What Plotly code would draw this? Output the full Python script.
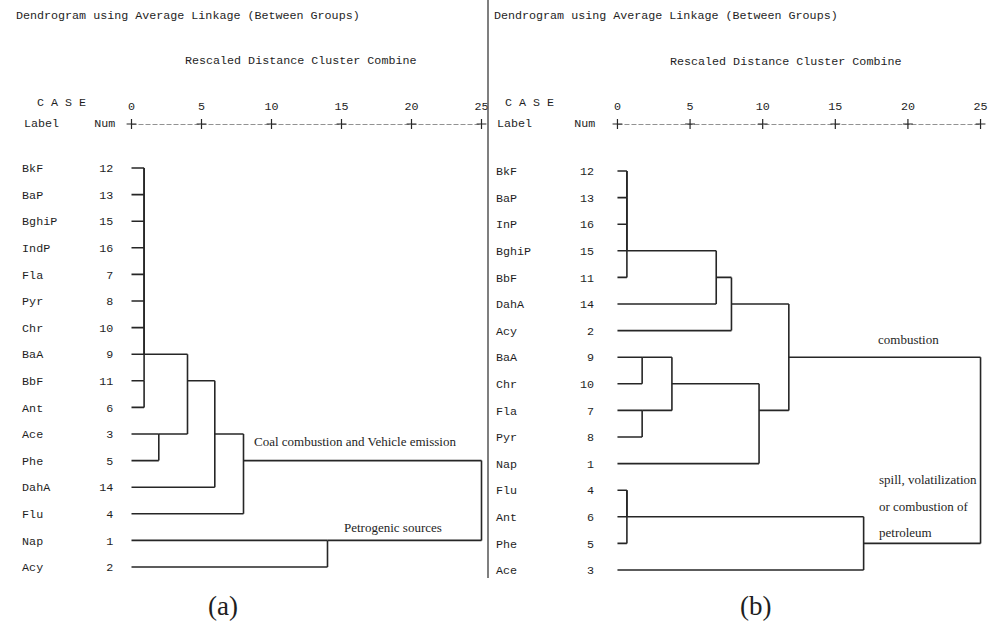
import plotly.graph_objects as go

# ---------------- data ----------------
ticks = [0, 5, 10, 15, 20, 25]

labels_a = ["BkF", "BaP", "BghiP", "IndP", "Fla", "Pyr", "Chr", "BaA",
            "BbF", "Ant", "Ace", "Phe", "DahA", "Flu", "Nap", "Acy"]
nums_a = [12, 13, 15, 16, 7, 8, 10, 9, 11, 6, 3, 5, 14, 4, 1, 2]
# (left id, right id, rescaled distance); new cluster ids start at len(labels)
merges_a = [
    (0, 1, 0.9), (16, 2, 0.9), (17, 3, 0.9), (18, 4, 0.9), (19, 5, 0.9),
    (20, 6, 0.9), (21, 7, 0.9), (8, 9, 0.9), (22, 23, 0.9),
    (10, 11, 1.95),
    (24, 25, 4.0),
    (26, 12, 5.95),
    (27, 13, 8.0),
    (14, 15, 14.0),
    (28, 29, 25.0),
]

labels_b = ["BkF", "BaP", "InP", "BghiP", "BbF", "DahA", "Acy", "BaA",
            "Chr", "Fla", "Pyr", "Nap", "Flu", "Ant", "Phe", "Ace"]
nums_b = [12, 13, 16, 15, 11, 14, 2, 9, 10, 7, 8, 1, 4, 6, 5, 3]
merges_b = [
    (0, 1, 0.65), (16, 2, 0.65), (17, 3, 0.65), (18, 4, 0.65),
    (19, 5, 6.8),
    (20, 6, 7.85),
    (7, 8, 1.7),
    (9, 10, 1.7),
    (22, 23, 3.75),
    (24, 11, 9.75),
    (21, 25, 11.8),
    (12, 13, 0.65), (27, 14, 0.65),
    (28, 15, 16.95),
    (26, 29, 25.0),
]

# ---------------- helpers ----------------
W, H = 993, 621
def px(x):
    return x / W
def py(y):
    return 1 - y / H

LINE = "#262626"
TXT = "#1e1e1e"
MONO = "Liberation Mono"
SERIF = "Liberation Serif"


def dendro_segments(n, merges):
    """SPSS style: each cluster is drawn on a representative row."""
    row = {i: i for i in range(n)}
    xpos = {i: 0.0 for i in range(n)}
    xs, ys = [], []
    for k, (a, b, h) in enumerate(merges):
        ra, rb = row[a], row[b]
        xs += [xpos[a], h, None, xpos[b], h, None, h, h, None]
        ys += [ra, ra, None, rb, rb, None, ra, rb, None]
        cid = n + k
        row[cid] = (min(ra, rb) + max(ra, rb)) // 2
        xpos[cid] = h
    return xs, ys


fig = go.Figure()

panels = [
    dict(labels=labels_a, nums=nums_a, merges=merges_a, xa="x", ya="y",
         fmt="{:<10}{:>3}"),
    dict(labels=labels_b, nums=nums_b, merges=merges_b, xa="x2", ya="y2",
         fmt="{:<11}{:>3}"),
]

RULER_A = -1.654
RULER_B = -1.767

for p, ruler in zip(panels, [RULER_A, RULER_B]):
    xs, ys = dendro_segments(len(p["labels"]), p["merges"])
    fig.add_trace(go.Scatter(x=xs, y=ys, mode="lines", xaxis=p["xa"], yaxis=p["ya"],
                             line=dict(color=LINE, width=1.6), hoverinfo="skip",
                             showlegend=False, cliponaxis=False))
    # ruler "+---------+---------+"
    fig.add_trace(go.Scatter(x=ticks, y=[ruler] * len(ticks), mode="lines+markers",
                             xaxis=p["xa"], yaxis=p["ya"],
                             line=dict(color=LINE, width=1, dash="5px,2px"),
                             marker=dict(symbol="cross-thin", size=7,
                                         line=dict(color=LINE, width=1.2)),
                             hoverinfo="skip", showlegend=False, cliponaxis=False))

ticktext_a = [panels[0]["fmt"].format(l, n) for l, n in zip(labels_a, nums_a)]
ticktext_b = [panels[1]["fmt"].format(l, n) for l, n in zip(labels_b, nums_b)]

xcommon = dict(side="top", tickvals=ticks, ticktext=[str(t) for t in ticks],
               showgrid=False, zeroline=False, showline=False, ticks="",
               tickfont=dict(family=MONO, size=11.7, color=TXT),
               ticklabelstandoff=11, range=[-0.3, 25.5])
ycommon = dict(showgrid=False, zeroline=False, showline=False, ticks="",
               tickvals=list(range(16)),
               tickfont=dict(family=MONO, size=11.7, color=TXT))

fig.update_layout(
    width=W, height=H, margin=dict(l=0, r=0, t=0, b=0),
    paper_bgcolor="white", plot_bgcolor="white",
    xaxis=dict(**xcommon, domain=[px(127.3), px(488.5)], anchor="y"),
    xaxis2=dict(**xcommon, domain=[px(613.1), px(987.8)], anchor="y2"),
    yaxis=dict(**ycommon, ticktext=ticktext_a, range=[15.5, RULER_A],
               domain=[py(580.3), py(124)], anchor="x", ticklabelstandoff=13),
    yaxis2=dict(**ycommon, ticktext=ticktext_b, range=[15.5, RULER_B],
                domain=[py(583.3), py(124)], anchor="x2", ticklabelstandoff=18),
)

mono = dict(family=MONO, size=11.7, color=TXT)
header = [
    ("Dendrogram using Average Linkage (Between Groups)", 14, 16),
    ("Rescaled Distance Cluster Combine", 183, 61),
    ("C A S E", 35, 103),
    ("Label     Num", 22, 124),
    ("Dendrogram using Average Linkage (Between Groups)", 492, 16),
    ("Rescaled Distance Cluster Combine", 668, 62),
    ("C A S E", 503, 103),
    ("Label      Num", 495, 124),
]
for t, x, y in header:
    fig.add_annotation(text=t, x=px(x), y=py(y), xref="paper", yref="paper",
                       xanchor="left", yanchor="middle", showarrow=False, font=mono)

serif = dict(family=SERIF, size=13, color=TXT)
notes = [
    ("Coal combustion and Vehicle emission", "x", "y", 8.6, 10.3),
    ("Petrogenic sources", "x", "y", 15.0, 13.5),
    ("combustion", "x2", "y2", 17.8, 6.35),
    ("spill, volatilization", "x2", "y2", 17.9, 11.6),
    ("or combustion of", "x2", "y2", 17.9, 12.6),
    ("petroleum", "x2", "y2", 17.9, 13.6),
]
for t, xr, yr, x, y in notes:
    fig.add_annotation(text=t, x=x, y=y, xref=xr, yref=yr, xanchor="left",
                       yanchor="middle", showarrow=False, font=serif)

for t, x in [("(a)", 223), ("(b)", 755)]:
    fig.add_annotation(text=t, x=px(x), y=py(606), xref="paper", yref="paper",
                       xanchor="center", yanchor="middle", showarrow=False,
                       font=dict(family=SERIF, size=27, color=TXT))

# divider between the two panels
fig.add_shape(type="line", x0=px(488), x1=px(488), y0=py(0), y1=py(578),
              xref="paper", yref="paper", line=dict(color="#555555", width=1.5))

fig.write_html("out.html")
